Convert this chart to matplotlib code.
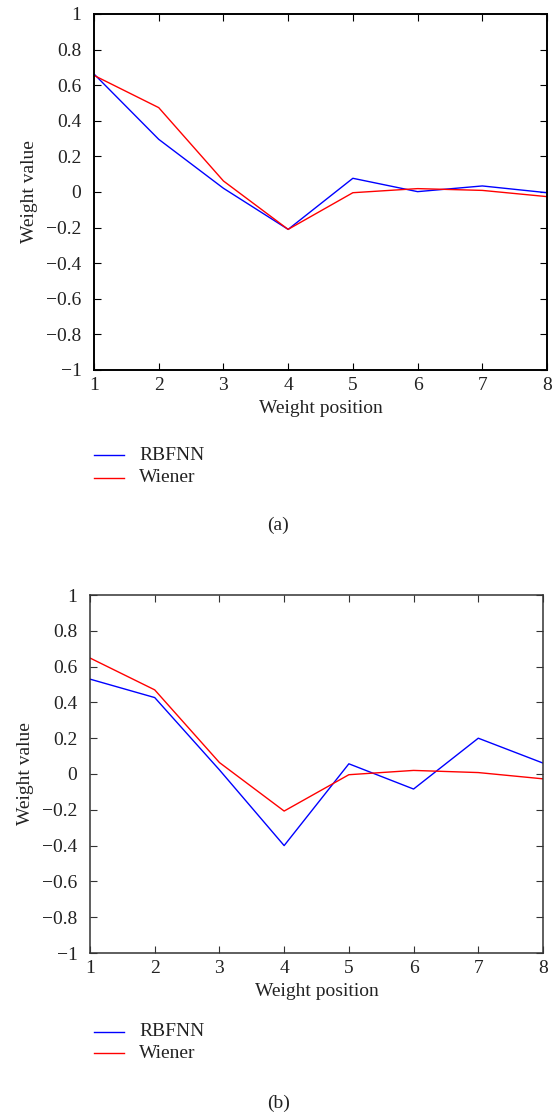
import matplotlib
matplotlib.use("Agg")
import matplotlib.pyplot as plt

plt.rcParams['font.family'] = ['Liberation Serif', 'DejaVu Serif']

positions = [1, 2, 3, 4, 5, 6, 7, 8]
rbfnn_a = [0.663, 0.296, 0.021, -0.21, 0.077, 0.002, 0.034, -0.004]
wiener_a = [0.655, 0.474, 0.062, -0.21, -0.004, 0.019, 0.009, -0.026]
rbfnn_b = [0.53, 0.427, 0.023, -0.40, 0.057, -0.084, 0.20, 0.061]
wiener_b = [0.648, 0.47, 0.064, -0.207, -0.004, 0.02, 0.008, -0.027]
yticks = [-1, -0.8, -0.6, -0.4, -0.2, 0, 0.2, 0.4, 0.6, 0.8, 1]
ytick_labels = ['\u22121', '\u22120.8', '\u22120.6', '\u22120.4', '\u22120.2', '0', '0.2', '0.4', '0.6', '0.8', '1']

W, H = 557, 1118
fig = plt.figure(figsize=(W / 100, H / 100), dpi=100)

def make_axes(l, t, r, b):
    return fig.add_axes([l / W, 1 - b / H, (r - l) / W, (b - t) / H])

panels = [
    (make_axes(94, 14, 547, 370), rbfnn_a, wiener_a, 455, 478, 525, '(a)', 'black', 1.4),
    (make_axes(90, 595, 543, 953), rbfnn_b, wiener_b, 1032, 1053, 1103, '(b)', '#333333', 1.1),
]

fs = 14
for ax, rb, wi, ly1, ly2, cy, cap, fcol, flw in panels:
    ax.plot(positions, rb, color='#0000ff', lw=1.0, label='RBFNN')
    ax.plot(positions, wi, color='#ff0000', lw=1.0, label='Wiener')
    ax.set_xlim(1, 8)
    ax.set_ylim(-1, 1)
    ax.set_xticks(positions)
    ax.set_yticks(yticks)
    ax.set_yticklabels(ytick_labels)
    ax.tick_params(direction='in', top=True, right=True, labelsize=fs, length=5,
                   width=0.8, color=fcol, labelcolor='#222222')
    ax.tick_params(axis='y', pad=9)
    ax.tick_params(axis='x', pad=5)
    for s in ax.spines.values():
        s.set_linewidth(flw)
        s.set_color(fcol)
    ax.set_xlabel('Weight position', fontsize=fs, labelpad=4, color='#222222')
    ax.set_ylabel('Weight value', fontsize=fs, labelpad=6, color='#222222')
    x0, x1 = 94 / W, 124 / W
    for yy, col, txt in [(ly1, '#0000ff', 'RBFNN'), (ly2, '#ff0000', 'Wiener')]:
        fig.add_artist(plt.Line2D([x0, x1], [1 - yy / H, 1 - yy / H], color=col, lw=1.0))
        fig.text(139 / W, 1 - yy / H, txt, fontsize=fs, va='center', ha='left', color='#222222')
    fig.text(0.5, 1 - cy / H, cap, fontsize=fs, ha='center', va='center', color='#222222')

fig.savefig('out.png', dpi=100)
